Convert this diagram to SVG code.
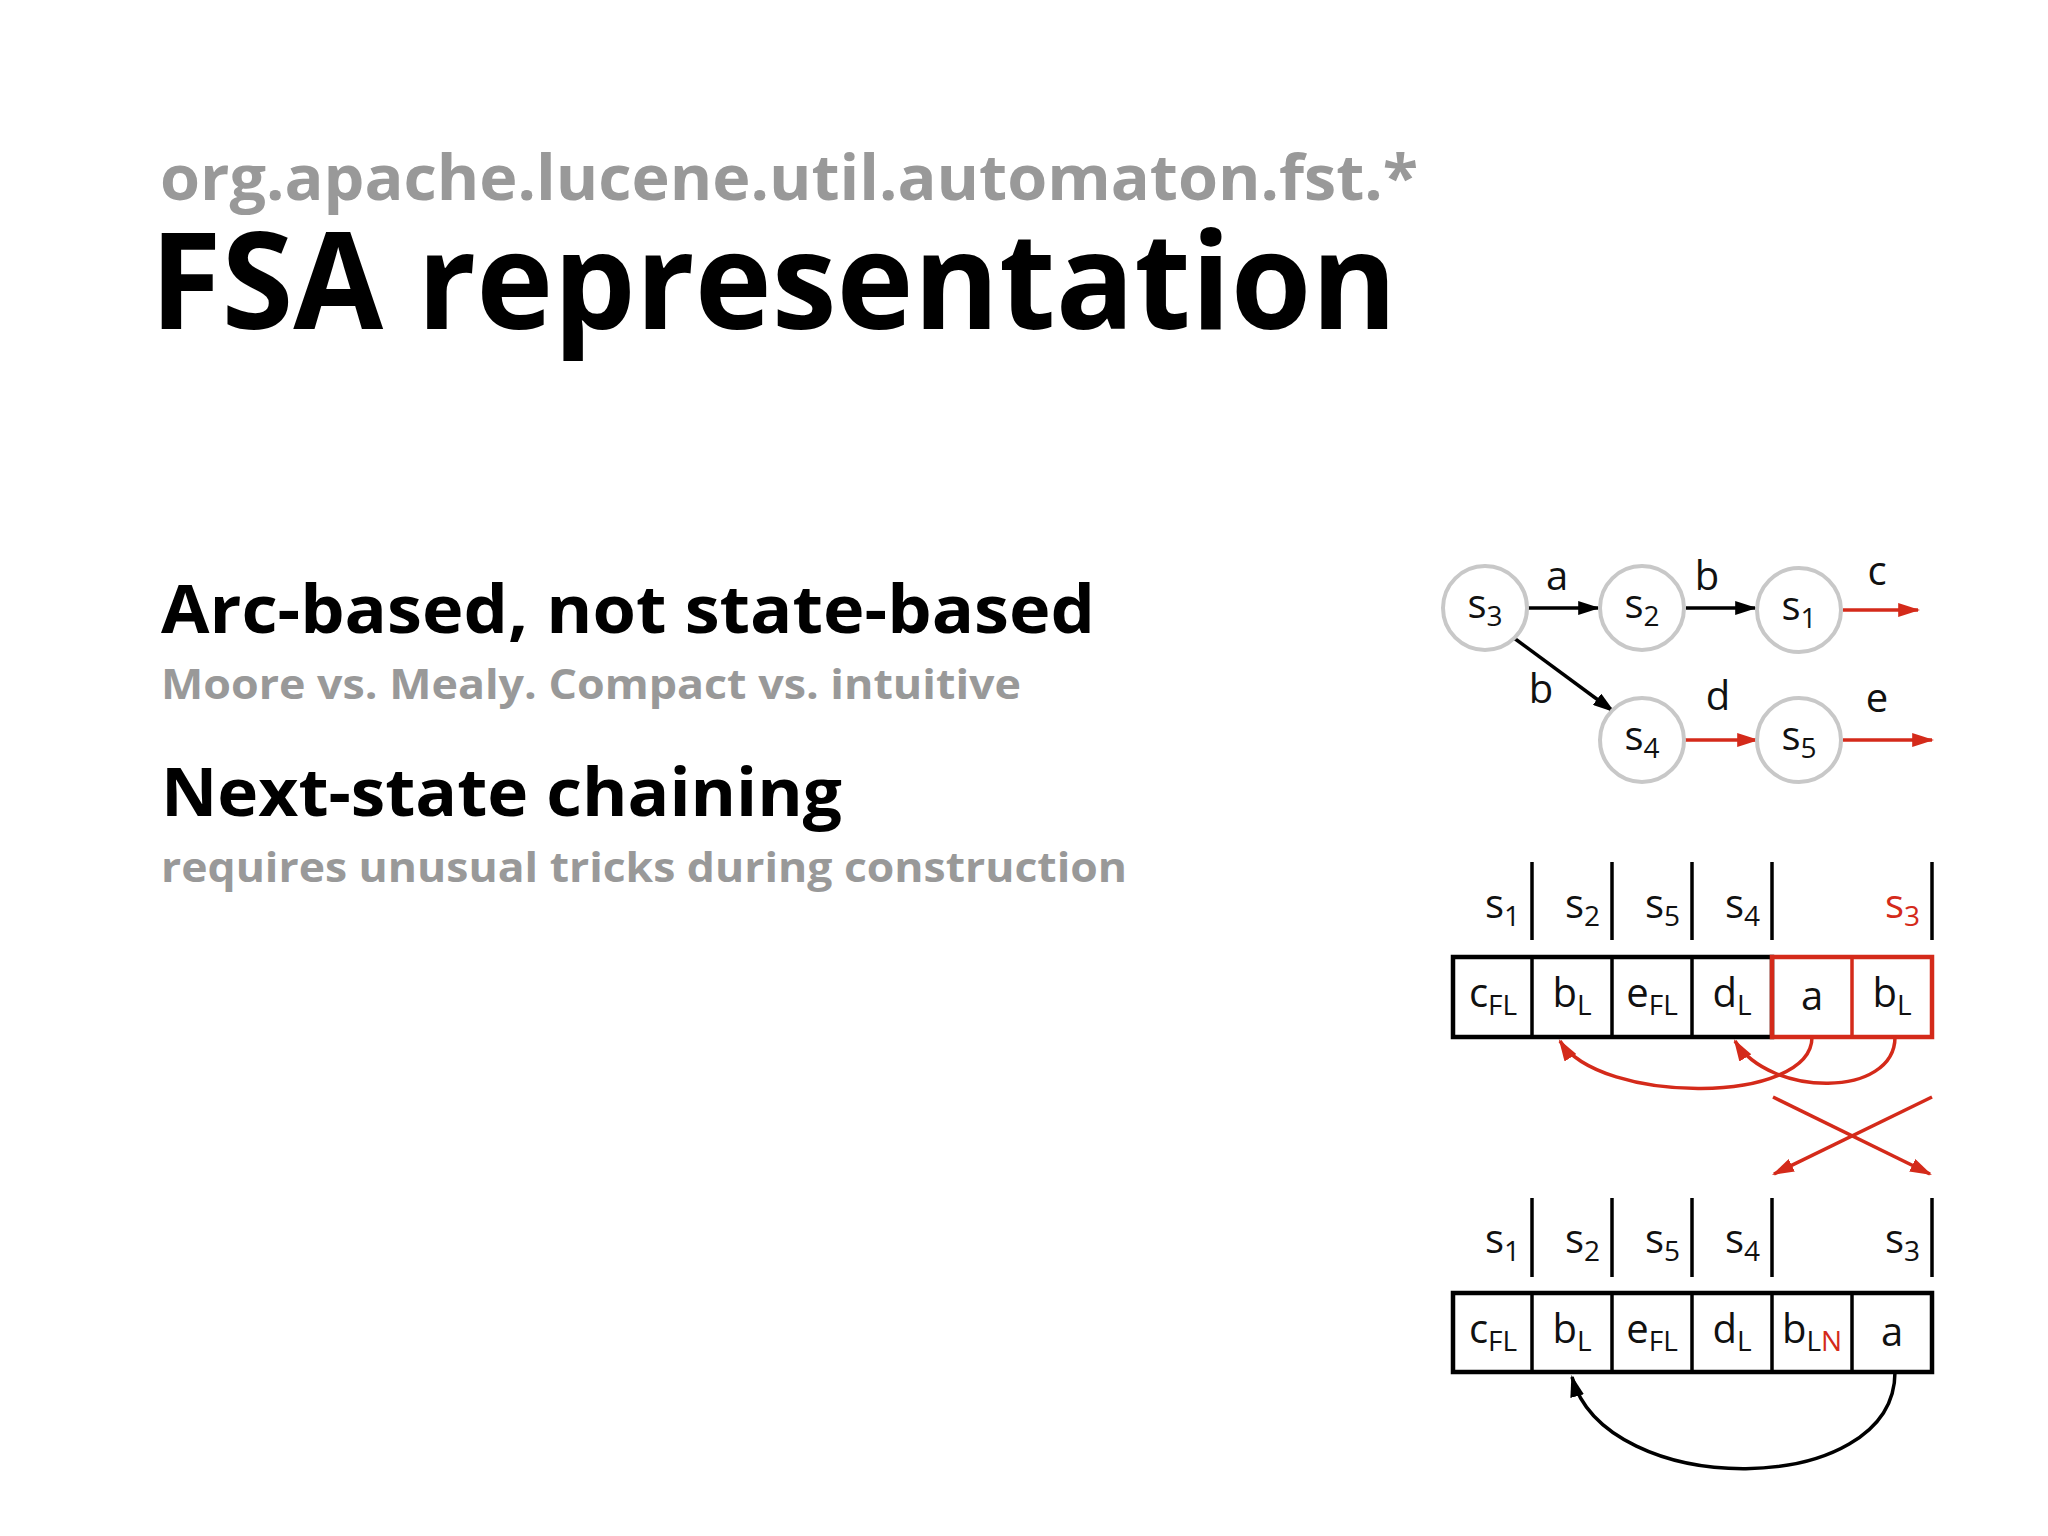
<svg xmlns="http://www.w3.org/2000/svg" width="2048" height="1536" viewBox="0 0 2048 1536">
<style>
.t{font-family:"Open Sans","Liberation Sans",sans-serif;font-weight:bold}
.g{fill:#999}
.d{font-family:"Open Sans","DejaVu Sans",sans-serif;font-size:40px;fill:#111}
.sub{font-size:28px}
.r{fill:#d42a1a}
.st{fill:#fff;stroke:#c8c8c8;stroke-width:4}
.k{stroke:#000;stroke-width:3.5;fill:none}
.kr{stroke:#d42a1a;stroke-width:3.5;fill:none}
.box{fill:#fff;stroke:#000;stroke-width:4.5}
.boxr{fill:none;stroke:#d42a1a;stroke-width:4.5}
</style>
<defs>
<marker id="ak" viewBox="0 0 10 10" refX="9" refY="5" markerWidth="22" markerHeight="14" markerUnits="userSpaceOnUse" orient="auto" preserveAspectRatio="none"><path d="M0,0L10,5L0,10z" fill="#000"/></marker>
<marker id="ar" viewBox="0 0 10 10" refX="9" refY="5" markerWidth="22" markerHeight="14" markerUnits="userSpaceOnUse" orient="auto" preserveAspectRatio="none"><path d="M0,0L10,5L0,10z" fill="#d42a1a"/></marker>
</defs>
<rect width="2048" height="1536" fill="#fff"/>
<text class="t g" x="160" y="200" font-size="62" textLength="1258" lengthAdjust="spacingAndGlyphs">org.apache.lucene.util.automaton.fst.*</text>
<text class="t" x="150" y="329" font-size="134" textLength="1247" lengthAdjust="spacingAndGlyphs">FSA representation</text>
<text class="t" x="161" y="633" font-size="66" textLength="934" lengthAdjust="spacingAndGlyphs">Arc-based, not state-based</text>
<text class="t g" x="161" y="699" font-size="42" textLength="860" lengthAdjust="spacingAndGlyphs">Moore vs. Mealy. Compact vs. intuitive</text>
<text class="t" x="161" y="816" font-size="66" textLength="681" lengthAdjust="spacingAndGlyphs">Next-state chaining</text>
<text class="t g" x="161" y="882" font-size="42" textLength="966" lengthAdjust="spacingAndGlyphs">requires unusual tricks during construction</text>

<g id="connectors">
<line class="k" x1="1527" y1="608" x2="1598" y2="608" marker-end="url(#ak)"/>
<line class="k" x1="1686" y1="608" x2="1755" y2="608" marker-end="url(#ak)"/>
<line class="kr" x1="1843" y1="610" x2="1918" y2="610" marker-end="url(#ar)"/>
<line class="k" x1="1514" y1="638" x2="1613" y2="711" marker-end="url(#ak)"/>
<line class="kr" x1="1684" y1="740" x2="1757" y2="740" marker-end="url(#ar)"/>
<line class="kr" x1="1843" y1="740" x2="1932" y2="740" marker-end="url(#ar)"/>
<path class="kr" d="M1812,1037 C1812,1105 1600,1105 1560,1041" marker-end="url(#ar)"/>
<path class="kr" d="M1895,1037 C1895,1098 1770,1098 1735,1041" marker-end="url(#ar)"/>
<line class="kr" x1="1773" y1="1097" x2="1930" y2="1174" marker-end="url(#ar)"/>
<line class="kr" x1="1932" y1="1097" x2="1774" y2="1174" marker-end="url(#ar)"/>
<path class="k" d="M1895,1372 C1895,1500 1605,1500 1572,1377" marker-end="url(#ak)"/>
</g>
<g id="labels" class="d">
<text x="1557" y="590" text-anchor="middle">a</text>
<text x="1707" y="590" text-anchor="middle">b</text>
<text x="1877" y="585" text-anchor="middle">c</text>
<text x="1541" y="703" text-anchor="middle">b</text>
<text x="1718" y="710" text-anchor="middle">d</text>
<text x="1877" y="712" text-anchor="middle">e</text>
</g>
<g id="s3"><circle class="st" cx="1485" cy="608" r="42"/><text class="d" x="1485" y="618" text-anchor="middle">s<tspan class="sub" dy="8">3</tspan></text></g>
<g id="s2"><circle class="st" cx="1642" cy="608" r="42"/><text class="d" x="1642" y="618" text-anchor="middle">s<tspan class="sub" dy="8">2</tspan></text></g>
<g id="s1"><circle class="st" cx="1799" cy="610" r="42"/><text class="d" x="1799" y="620" text-anchor="middle">s<tspan class="sub" dy="8">1</tspan></text></g>
<g id="s4"><circle class="st" cx="1642" cy="740" r="42"/><text class="d" x="1642" y="750" text-anchor="middle">s<tspan class="sub" dy="8">4</tspan></text></g>
<g id="s5"><circle class="st" cx="1799" cy="740" r="42"/><text class="d" x="1799" y="750" text-anchor="middle">s<tspan class="sub" dy="8">5</tspan></text></g>

<g id="array1">
<g class="k" stroke-width="4.5"><line x1="1532" y1="862" x2="1532" y2="940"/><line x1="1612" y1="862" x2="1612" y2="940"/><line x1="1692" y1="862" x2="1692" y2="940"/><line x1="1772" y1="862" x2="1772" y2="940"/><line x1="1932" y1="862" x2="1932" y2="940"/></g>
<g class="d" text-anchor="end">
<text x="1520" y="918">s<tspan class="sub" dy="8">1</tspan></text>
<text x="1600" y="918">s<tspan class="sub" dy="8">2</tspan></text>
<text x="1680" y="918">s<tspan class="sub" dy="8">5</tspan></text>
<text x="1760" y="918">s<tspan class="sub" dy="8">4</tspan></text>
<text x="1920" y="918" class="r">s<tspan class="sub" dy="8">3</tspan></text>
</g>
<rect class="box" x="1453" y="957" width="319" height="80"/>
<g class="k" stroke-width="4.5"><line x1="1532" y1="957" x2="1532" y2="1037"/><line x1="1612" y1="957" x2="1612" y2="1037"/><line x1="1692" y1="957" x2="1692" y2="1037"/></g>
<rect class="boxr" x="1772" y="957" width="160" height="80"/>
<line class="kr" stroke-width="4.5" x1="1852" y1="957" x2="1852" y2="1037"/>
<g class="d" text-anchor="middle">
<text x="1493" y="1007">c<tspan class="sub" dy="8">FL</tspan></text>
<text x="1572" y="1007">b<tspan class="sub" dy="8">L</tspan></text>
<text x="1652" y="1007">e<tspan class="sub" dy="8">FL</tspan></text>
<text x="1732" y="1007">d<tspan class="sub" dy="8">L</tspan></text>
<text x="1812" y="1010">a</text>
<text x="1892" y="1007">b<tspan class="sub" dy="8">L</tspan></text>
</g>
</g>

<g id="array2">
<g class="k" stroke-width="4.5"><line x1="1532" y1="1198" x2="1532" y2="1277"/><line x1="1612" y1="1198" x2="1612" y2="1277"/><line x1="1692" y1="1198" x2="1692" y2="1277"/><line x1="1772" y1="1198" x2="1772" y2="1277"/><line x1="1932" y1="1198" x2="1932" y2="1277"/></g>
<g class="d" text-anchor="end">
<text x="1520" y="1253">s<tspan class="sub" dy="8">1</tspan></text>
<text x="1600" y="1253">s<tspan class="sub" dy="8">2</tspan></text>
<text x="1680" y="1253">s<tspan class="sub" dy="8">5</tspan></text>
<text x="1760" y="1253">s<tspan class="sub" dy="8">4</tspan></text>
<text x="1920" y="1253">s<tspan class="sub" dy="8">3</tspan></text>
</g>
<rect class="box" x="1453" y="1293" width="479" height="79"/>
<g class="k" stroke-width="4.5"><line x1="1532" y1="1293" x2="1532" y2="1372"/><line x1="1612" y1="1293" x2="1612" y2="1372"/><line x1="1692" y1="1293" x2="1692" y2="1372"/><line x1="1772" y1="1293" x2="1772" y2="1372"/><line x1="1852" y1="1293" x2="1852" y2="1372"/></g>
<g class="d" text-anchor="middle">
<text x="1493" y="1343">c<tspan class="sub" dy="8">FL</tspan></text>
<text x="1572" y="1343">b<tspan class="sub" dy="8">L</tspan></text>
<text x="1652" y="1343">e<tspan class="sub" dy="8">FL</tspan></text>
<text x="1732" y="1343">d<tspan class="sub" dy="8">L</tspan></text>
<text x="1812" y="1343">b<tspan class="sub" dy="8">L<tspan class="r">N</tspan></tspan></text>
<text x="1892" y="1346">a</text>
</g>
</g>
</svg>
